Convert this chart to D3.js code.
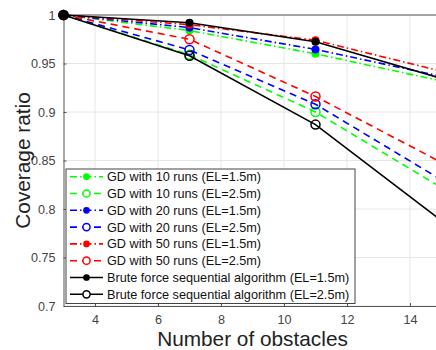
<!DOCTYPE html>
<html><head><meta charset="utf-8">
<script src="https://cdn.jsdelivr.net/npm/d3@7"></script>
<style>body{margin:0;background:#fff}svg{display:block}</style>
</head><body>
<svg id="c" width="436" height="350"></svg>
<script>
const xValues = [3, 7, 11, 15];
const gd10_15 = [1, 0.984, 0.960, 0.932];
const gd10_25 = [1, 0.959, 0.900, 0.822];
const gd20_15 = [1, 0.987, 0.9645, 0.9368];
const gd20_25 = [1, 0.964, 0.908, 0.830];
const gd50_15 = [1, 0.990, 0.974, 0.942];
const gd50_25 = [1, 0.975, 0.916, 0.848];
const bf_15 = [1, 0.992, 0.9725, 0.9346];
const bf_25 = [1, 0.958, 0.887, 0.788];
const seriesNames = ["GD with 10 runs (EL=1.5m)","GD with 10 runs (EL=2.5m)","GD with 20 runs (EL=1.5m)","GD with 20 runs (EL=2.5m)","GD with 50 runs (EL=1.5m)","GD with 50 runs (EL=2.5m)","Brute force sequential algorithm (EL=1.5m)","Brute force sequential algorithm (EL=2.5m)"];
const xTicks = [4, 6, 8, 10, 12, 14];
const yTicks = [0.7, 0.75, 0.8, 0.85, 0.9, 0.95, 1];

const series = [
  {name: seriesNames[0], v: gd10_15, color: "#00ff00", dash: "7,3,1.5,3", filled: true},
  {name: seriesNames[1], v: gd10_25, color: "#00ff00", dash: "7,5", filled: false},
  {name: seriesNames[2], v: gd20_15, color: "#0000ff", dash: "7,3,1.5,3", filled: true},
  {name: seriesNames[3], v: gd20_25, color: "#0000ff", dash: "7,5", filled: false},
  {name: seriesNames[4], v: gd50_15, color: "#ff0000", dash: "7,3,1.5,3", filled: true},
  {name: seriesNames[5], v: gd50_25, color: "#ff0000", dash: "7,5", filled: false},
  {name: seriesNames[6], v: bf_15, color: "#000000", dash: null, filled: true},
  {name: seriesNames[7], v: bf_25, color: "#000000", dash: null, filled: false}
];

const svg = d3.select("#c");
const L = 63.5, T = 15, B = 306, R = 441.5;
const x = d3.scaleLinear().domain([3, 15]).range([L, R]);
const y = d3.scaleLinear().domain([0.7, 1]).range([B, T]);
const font = "Liberation Sans, Arial, Helvetica, sans-serif";

// grid
const g = svg.append("g");
g.selectAll(".gx").data(xTicks).enter().append("line")
  .attr("x1", d => x(d)).attr("x2", d => x(d)).attr("y1", T).attr("y2", B)
  .attr("stroke", "#e6e6e6").attr("stroke-width", 1);
g.selectAll(".gy").data(yTicks).enter().append("line")
  .attr("x1", L).attr("x2", R).attr("y1", d => y(d)).attr("y2", d => y(d))
  .attr("stroke", "#e6e6e6").attr("stroke-width", 1);

// axes
const xAxis = d3.axisBottom(x).tickValues(xTicks).tickSizeInner(-3).tickSizeOuter(0).tickPadding(9).tickFormat(d3.format("d"));
const yAxis = d3.axisLeft(y).tickValues(yTicks).tickSizeInner(-3).tickSizeOuter(0).tickPadding(8).tickFormat(d => d === 1 ? "1" : String(d));
const gx = svg.append("g").attr("transform", `translate(0,${B})`).call(xAxis);
const gy = svg.append("g").attr("transform", `translate(${L},0)`).call(yAxis);
[gx, gy].forEach(a => {
  a.select(".domain").attr("stroke", "#555").attr("stroke-width", 1);
  a.selectAll(".tick line").attr("stroke", "#555");
  a.selectAll(".tick text").attr("fill", "#444").style("font-family", font).style("font-size", "12.6px");
});
// top border
svg.append("line").attr("x1", L).attr("x2", R).attr("y1", T).attr("y2", T).attr("stroke", "#555");

// lines
const line = d3.line().x((d, i) => x(xValues[i])).y(d => y(d));
const marks = svg.append("g");
series.forEach(s => {
  marks.append("path").datum(s.v).attr("d", line).attr("fill", "none")
    .attr("stroke", s.color).attr("stroke-width", 1.6)
    .attr("stroke-dasharray", s.dash);
  marks.selectAll(null).data(s.v).enter().append("circle")
    .attr("cx", (d, i) => x(xValues[i])).attr("cy", d => y(d))
    .attr("r", s.filled ? 3.3 : 4.5)
    .attr("fill", s.filled ? s.color : "none")
    .attr("stroke", s.color).attr("stroke-width", 1.5);
});

// legend
const lg = svg.append("g");
const lx0 = 66, ly0 = 169, lw = 289, lh = 134.5;
lg.append("rect").attr("x", lx0).attr("y", ly0).attr("width", lw).attr("height", lh)
  .attr("fill", "#fff").attr("stroke", "#444").attr("stroke-width", 1);
const rowY = d3.scaleLinear().domain([0, 7]).range([176.7, 294.3]);
series.forEach((s, i) => {
  const yy = rowY(i);
  lg.append("line").attr("x1", 70).attr("x2", 103).attr("y1", yy).attr("y2", yy)
    .attr("stroke", s.color).attr("stroke-width", 1.6).attr("stroke-dasharray", s.dash);
  lg.append("circle").attr("cx", 86.5).attr("cy", yy).attr("r", s.filled ? 2.6 : 3.6)
    .attr("fill", s.filled ? s.color : "#fff").attr("stroke", s.color).attr("stroke-width", 1.5);
  lg.append("text").attr("x", 107).attr("y", yy + 4.5).text(s.name)
    .attr("fill", "#111").style("font-family", font).style("font-size", "12.7px");
});

// axis labels
svg.append("text").attr("x", (L + R) / 2).attr("y", 346).attr("text-anchor", "middle")
  .text("Number of obstacles").attr("fill", "#222").style("font-family", font).style("font-size", "20.8px");
svg.append("text").attr("transform", `translate(30,${(T + B) / 2}) rotate(-90)`).attr("text-anchor", "middle")
  .text("Coverage ratio").attr("fill", "#222").style("font-family", font).style("font-size", "20.8px");
</script>
</body></html>
